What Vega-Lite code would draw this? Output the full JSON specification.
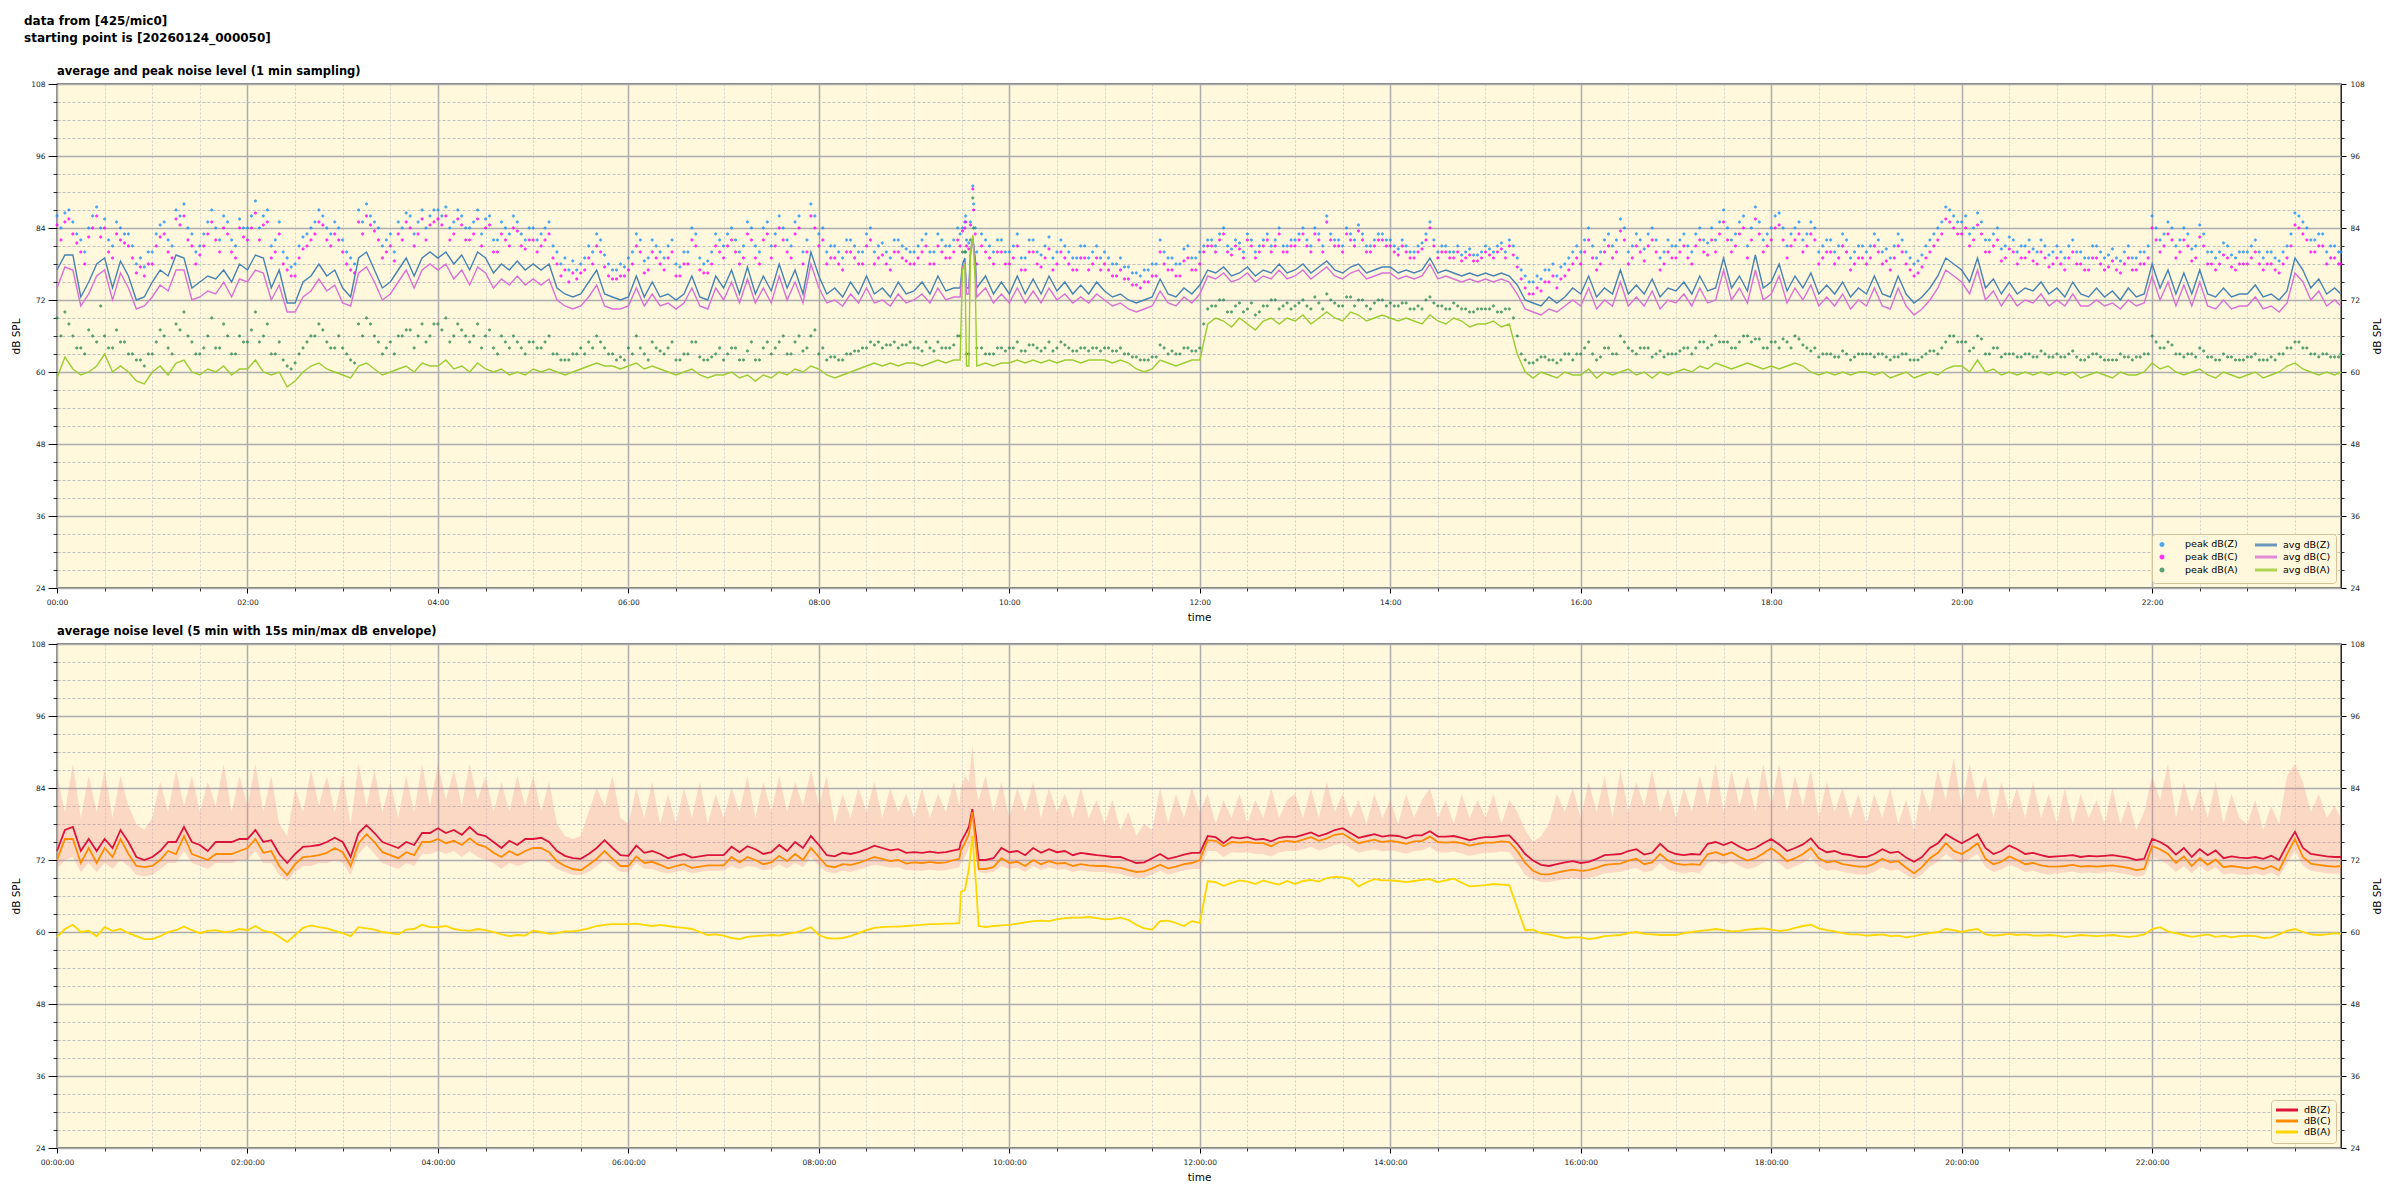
{
"$schema":"https://vega.github.io/schema/vega-lite/v6.json",
"background":"white",
"padding":{"left":11,"top":14,"right":5,"bottom":5},
"title":{"text":["data from [425/mic0]","starting point is [20260124_000050]"],"anchor":"start","frame":"bounds","fontSize":12,"lineHeight":17,"dx":13,"offset":20,"font":"DejaVu Sans","fontWeight":"bold","color":"#000000"},
"spacing":0,
"resolve":{"scale":{"color":"independent","fill":"independent","stroke":"independent","shape":"independent"},"legend":{"color":"independent","fill":"independent","stroke":"independent","shape":"independent"}},
"config":{
 "font":"DejaVu Sans",
 "view":{"fill":"#FFF8DC","stroke":"#000000","strokeWidth":1.3},
 "axis":{"labelFont":"DejaVu Sans","titleFont":"DejaVu Sans","labelFontSize":7.5,"labelColor":"#222222","titleColor":"#000000","titleFontSize":10.5,"titleFontWeight":"normal","tickColor":"#000000","domain":false,"labelFlush":false,"labelOverlap":false,"labelBound":false},
 "legend":{"labelFont":"DejaVu Sans","labelFontSize":9.5,"labelColor":"#000000","fillColor":"#FFF8DC","strokeColor":"#d6c39c","cornerRadius":3,"padding":5,"rowPadding":-3,"columnPadding":10,"labelOffset":18,"offset":5},
 "title":{"font":"DejaVu Sans","fontSize":11.5,"fontWeight":"bold","anchor":"start","frame":"group","offset":3,"color":"#000000"}
},
"datasets":{
"top":[
{"m":0,"z":77,"c":74,"a":59,"pz":86,"pc":84.5,"pa":69},
{"m":5,"z":79.5,"c":77.5,"a":62.5,"pz":86.5,"pc":85,"pa":70},
{"m":10,"z":79.5,"c":77,"a":60.5,"pz":85,"pc":83,"pa":66},
{"m":15,"z":72.5,"c":71,"a":59.5,"pz":82,"pc":80,"pa":64},
{"m":20,"z":75,"c":73,"a":60,"pz":84,"pc":82.5,"pa":67},
{"m":25,"z":78,"c":76,"a":61,"pz":87.5,"pc":86,"pa":65},
{"m":30,"z":79,"c":77,"a":63,"pz":85.5,"pc":84,"pa":66},
{"m":35,"z":74,"c":72,"a":60,"pz":81,"pc":79,"pa":64},
{"m":40,"z":78.5,"c":76.5,"a":61,"pz":84,"pc":82,"pa":65},
{"m":45,"z":76,"c":74,"a":60,"pz":83,"pc":81,"pa":63},
{"m":50,"z":72,"c":70.5,"a":58.5,"pz":78,"pc":76.5,"pa":62},
{"m":55,"z":72.5,"c":71,"a":58,"pz":77.5,"pc":76,"pa":61},
{"m":60,"z":75,"c":72.5,"a":60,"pz":80,"pc":78,"pa":63},
{"m":65,"z":77,"c":74.5,"a":61,"pz":84.5,"pc":82.5,"pa":67},
{"m":70,"z":76,"c":73.5,"a":59.5,"pz":82,"pc":80,"pa":64},
{"m":75,"z":79.5,"c":77,"a":61.5,"pz":87,"pc":85.5,"pa":68},
{"m":80,"z":79,"c":77,"a":62,"pz":88,"pc":86,"pa":70},
{"m":85,"z":74,"c":72,"a":60,"pz":83,"pc":81,"pa":65},
{"m":90,"z":75,"c":72.5,"a":59.5,"pz":81,"pc":79.5,"pa":63},
{"m":95,"z":76,"c":73.5,"a":60.5,"pz":85,"pc":83,"pa":66},
{"m":100,"z":75.5,"c":73,"a":60,"pz":84,"pc":82,"pa":64},
{"m":105,"z":77,"c":75,"a":61,"pz":86,"pc":84,"pa":68},
{"m":110,"z":75,"c":72.5,"a":59.5,"pz":82,"pc":80,"pa":63},
{"m":115,"z":78,"c":75.5,"a":60.5,"pz":85.5,"pc":84,"pa":66},
{"m":120,"z":77,"c":75,"a":60.5,"pz":84,"pc":82,"pa":65},
{"m":125,"z":79.5,"c":77,"a":62,"pz":88.5,"pc":86.5,"pa":70},
{"m":130,"z":79,"c":76.5,"a":60,"pz":86,"pc":84.5,"pa":66},
{"m":135,"z":74,"c":72,"a":59.5,"pz":81,"pc":79,"pa":63},
{"m":140,"z":77,"c":74.5,"a":60,"pz":85,"pc":83,"pa":65},
{"m":145,"z":71.5,"c":70,"a":57.5,"pz":79,"pc":77,"pa":61},
{"m":150,"z":71.5,"c":70,"a":58.5,"pz":78,"pc":76,"pa":61.5},
{"m":155,"z":75,"c":72.5,"a":60,"pz":82.5,"pc":80.5,"pa":64},
{"m":160,"z":76,"c":73.5,"a":61,"pz":84,"pc":82,"pa":66},
{"m":165,"z":78,"c":75.5,"a":61.5,"pz":87,"pc":85,"pa":68},
{"m":170,"z":76,"c":73.5,"a":60.5,"pz":84,"pc":82,"pa":65},
{"m":175,"z":77,"c":74.5,"a":60,"pz":85,"pc":83,"pa":64},
{"m":180,"z":74,"c":71.5,"a":59.5,"pz":82,"pc":80,"pa":64},
{"m":185,"z":72.5,"c":71,"a":59,"pz":79,"pc":77,"pa":62},
{"m":190,"z":79,"c":76.5,"a":61,"pz":87,"pc":85,"pa":68},
{"m":195,"z":80,"c":77.5,"a":61.5,"pz":88,"pc":86,"pa":69},
{"m":200,"z":77,"c":75,"a":60.5,"pz":85,"pc":83.5,"pa":66},
{"m":205,"z":74,"c":72,"a":59.5,"pz":81,"pc":79,"pa":63},
{"m":210,"z":75,"c":73,"a":60,"pz":83,"pc":81,"pa":65},
{"m":215,"z":77,"c":75,"a":60.5,"pz":85,"pc":83,"pa":66},
{"m":220,"z":79,"c":77,"a":61,"pz":86.5,"pc":85,"pa":67},
{"m":225,"z":76,"c":74,"a":60,"pz":83,"pc":81,"pa":64},
{"m":230,"z":79,"c":77,"a":61.5,"pz":87,"pc":85.5,"pa":68},
{"m":235,"z":80,"c":78,"a":61,"pz":86,"pc":84.5,"pa":66},
{"m":240,"z":79,"c":77,"a":61,"pz":87,"pc":85.5,"pa":68},
{"m":245,"z":80,"c":78,"a":62,"pz":87.5,"pc":86,"pa":69},
{"m":250,"z":78,"c":75.5,"a":60.5,"pz":85,"pc":83,"pa":66},
{"m":255,"z":79.5,"c":77,"a":61,"pz":86,"pc":84.5,"pa":67},
{"m":260,"z":77,"c":74.5,"a":60,"pz":84,"pc":82,"pa":65},
{"m":265,"z":80,"c":77.5,"a":61.5,"pz":87,"pc":85.5,"pa":68},
{"m":270,"z":79,"c":76.5,"a":60.5,"pz":85.5,"pc":84,"pa":66},
{"m":275,"z":76.5,"c":74,"a":60,"pz":82,"pc":80,"pa":64},
{"m":280,"z":78,"c":75.5,"a":60.5,"pz":85,"pc":83,"pa":66},
{"m":285,"z":77,"c":74.5,"a":59.5,"pz":83,"pc":81,"pa":64},
{"m":290,"z":78.5,"c":76,"a":60,"pz":85,"pc":83.5,"pa":65},
{"m":295,"z":77,"c":74.5,"a":59.5,"pz":82,"pc":80.5,"pa":63},
{"m":300,"z":78,"c":75.5,"a":60.5,"pz":84,"pc":82,"pa":65},
{"m":305,"z":77,"c":74.5,"a":60,"pz":83,"pc":81,"pa":64},
{"m":310,"z":78,"c":75.5,"a":60.5,"pz":85,"pc":83,"pa":66},
{"m":315,"z":74,"c":72,"a":60,"pz":80,"pc":78,"pa":63},
{"m":320,"z":73,"c":71,"a":59.5,"pz":79,"pc":77,"pa":62},
{"m":325,"z":72.5,"c":70.5,"a":60,"pz":78.5,"pc":76.5,"pa":63},
{"m":330,"z":73,"c":71,"a":60.5,"pz":78,"pc":76.5,"pa":64},
{"m":335,"z":75,"c":72.5,"a":61,"pz":81,"pc":79,"pa":65},
{"m":340,"z":77,"c":74.5,"a":61.5,"pz":83,"pc":81,"pa":66},
{"m":345,"z":73,"c":71,"a":61,"pz":79.5,"pc":77.5,"pa":64},
{"m":350,"z":72.5,"c":70.5,"a":61,"pz":77,"pc":75.5,"pa":63},
{"m":355,"z":72,"c":70.5,"a":60.5,"pz":78,"pc":76,"pa":62.5},
{"m":360,"z":72.5,"c":71,"a":61,"pz":79,"pc":77,"pa":64},
{"m":365,"z":76,"c":74,"a":61.5,"pz":83,"pc":81,"pa":66},
{"m":370,"z":72.5,"c":71,"a":60.5,"pz":78.5,"pc":76.5,"pa":63},
{"m":375,"z":75,"c":73,"a":61,"pz":82,"pc":80,"pa":65},
{"m":380,"z":72.5,"c":71,"a":60.5,"pz":80,"pc":78,"pa":63.5},
{"m":385,"z":73,"c":71.5,"a":60,"pz":81,"pc":79,"pa":64},
{"m":390,"z":72,"c":70.5,"a":59.5,"pz":78,"pc":76,"pa":62},
{"m":395,"z":73,"c":71.5,"a":60,"pz":80,"pc":78,"pa":63},
{"m":400,"z":76,"c":74,"a":60.5,"pz":84,"pc":82,"pa":65},
{"m":405,"z":72.5,"c":71,"a":59.5,"pz":79,"pc":77,"pa":62.5},
{"m":410,"z":72,"c":70.5,"a":59,"pz":78.5,"pc":76.5,"pa":62},
{"m":415,"z":76,"c":74,"a":59.5,"pz":83,"pc":81,"pa":63},
{"m":420,"z":74,"c":72,"a":59.5,"pz":81,"pc":79,"pa":62},
{"m":425,"z":77,"c":75,"a":60,"pz":84,"pc":82,"pa":64},
{"m":430,"z":73,"c":71.5,"a":59,"pz":80,"pc":78,"pa":62},
{"m":435,"z":77.5,"c":75.5,"a":59.5,"pz":85,"pc":83,"pa":63.5},
{"m":440,"z":73,"c":71.5,"a":58.5,"pz":81,"pc":79,"pa":62},
{"m":445,"z":76,"c":74,"a":59.5,"pz":84,"pc":82,"pa":64},
{"m":450,"z":73.5,"c":71.5,"a":59,"pz":81,"pc":79,"pa":63},
{"m":455,"z":78,"c":76,"a":60,"pz":86,"pc":84,"pa":65},
{"m":460,"z":74,"c":72,"a":59.5,"pz":82,"pc":80,"pa":63},
{"m":465,"z":77,"c":75,"a":60.5,"pz":85,"pc":83,"pa":65},
{"m":470,"z":73,"c":71.5,"a":60,"pz":80,"pc":78,"pa":63.5},
{"m":475,"z":80,"c":78,"a":61,"pz":88,"pc":86,"pa":66},
{"m":480,"z":76,"c":74,"a":60.5,"pz":83,"pc":81,"pa":63},
{"m":485,"z":73,"c":71.5,"a":59.5,"pz":80,"pc":78,"pa":62},
{"m":490,"z":74,"c":72,"a":59,"pz":81,"pc":79,"pa":62.5},
{"m":495,"z":72.5,"c":71,"a":59.5,"pz":79,"pc":77,"pa":62},
{"m":500,"z":75,"c":73,"a":60,"pz":82,"pc":80,"pa":63},
{"m":505,"z":73,"c":71.5,"a":60.5,"pz":80,"pc":78,"pa":63.5},
{"m":510,"z":76,"c":74,"a":61,"pz":83,"pc":81,"pa":64},
{"m":515,"z":73,"c":71.5,"a":61.5,"pz":80,"pc":78,"pa":64.5},
{"m":520,"z":74,"c":72,"a":61,"pz":81.5,"pc":79.5,"pa":64},
{"m":525,"z":72.5,"c":71,"a":61.5,"pz":79,"pc":77,"pa":64.5},
{"m":530,"z":75,"c":73,"a":61,"pz":82,"pc":80,"pa":64},
{"m":535,"z":73,"c":71.5,"a":61.5,"pz":80.5,"pc":78.5,"pa":64.5},
{"m":540,"z":73.5,"c":72,"a":61.5,"pz":80,"pc":78,"pa":64},
{"m":545,"z":75,"c":73,"a":61,"pz":82,"pc":80,"pa":63.5},
{"m":550,"z":73,"c":71.5,"a":61.5,"pz":80,"pc":78,"pa":64},
{"m":555,"z":76,"c":74,"a":62,"pz":83,"pc":81,"pa":65},
{"m":560,"z":73.5,"c":72,"a":61.5,"pz":81,"pc":79,"pa":64},
{"m":565,"z":74,"c":72.5,"a":62,"pz":82,"pc":80,"pa":64.5},
{"m":569,"z":74,"c":72.5,"a":62,"pz":83,"pc":81,"pa":66},
{"m":570.5,"z":78,"c":77.5,"a":77,"pz":84,"pc":83.5,"pa":80},
{"m":572,"z":79,"c":78,"a":78,"pz":85,"pc":84,"pa":80},
{"m":573,"z":74,"c":73,"a":61,"pz":82,"pc":81,"pa":63},
{"m":574.5,"z":74,"c":73,"a":61,"pz":81.5,"pc":80.5,"pa":63},
{"m":575.5,"z":80,"c":79.5,"a":80,"pz":85,"pc":84.5,"pa":82},
{"m":577,"z":82.5,"c":82,"a":82.8,"pz":91,"pc":90.5,"pa":89},
{"m":578.5,"z":79,"c":78,"a":75,"pz":84,"pc":83,"pa":78},
{"m":579.5,"z":74,"c":72.5,"a":61,"pz":80,"pc":78,"pa":64},
{"m":585,"z":76,"c":74,"a":61.5,"pz":82,"pc":80,"pa":63},
{"m":590,"z":73,"c":71.5,"a":61,"pz":80,"pc":78,"pa":63},
{"m":595,"z":75,"c":73,"a":61.5,"pz":82,"pc":80,"pa":64},
{"m":600,"z":73,"c":71.5,"a":61.5,"pz":80,"pc":78,"pa":64},
{"m":605,"z":76,"c":74,"a":62,"pz":83,"pc":81,"pa":65},
{"m":610,"z":73,"c":71.5,"a":61.5,"pz":79,"pc":77,"pa":63.5},
{"m":615,"z":75.5,"c":73.5,"a":62,"pz":82,"pc":80,"pa":64.5},
{"m":620,"z":73,"c":71.5,"a":61.5,"pz":79.5,"pc":77.5,"pa":63.5},
{"m":625,"z":76,"c":74,"a":62,"pz":82.5,"pc":80.5,"pa":65},
{"m":630,"z":73.5,"c":72,"a":61.5,"pz":80,"pc":78,"pa":64},
{"m":635,"z":75,"c":73,"a":62,"pz":81,"pc":79,"pa":64.5},
{"m":640,"z":73,"c":71.5,"a":62,"pz":79,"pc":77,"pa":63.5},
{"m":645,"z":74.5,"c":72.5,"a":61.5,"pz":81,"pc":79,"pa":64},
{"m":650,"z":73,"c":71.5,"a":62,"pz":79,"pc":77,"pa":63.5},
{"m":655,"z":75,"c":73,"a":62,"pz":81,"pc":79,"pa":64},
{"m":660,"z":73.5,"c":72,"a":62,"pz":80,"pc":78,"pa":64},
{"m":665,"z":72.5,"c":71,"a":61.5,"pz":78,"pc":76,"pa":63.5},
{"m":670,"z":73,"c":71.5,"a":62,"pz":79,"pc":77,"pa":64},
{"m":675,"z":72,"c":70.5,"a":61.5,"pz":77.5,"pc":75.5,"pa":63},
{"m":680,"z":71.5,"c":70,"a":60.5,"pz":76.5,"pc":74.5,"pa":62.5},
{"m":685,"z":72,"c":70.5,"a":60,"pz":77,"pc":75,"pa":62},
{"m":690,"z":72.5,"c":71,"a":60.5,"pz":78,"pc":76,"pa":62.5},
{"m":695,"z":75.5,"c":73.5,"a":62,"pz":82,"pc":80,"pa":64.5},
{"m":700,"z":73,"c":71.5,"a":61.5,"pz":79,"pc":77,"pa":63},
{"m":705,"z":72.5,"c":71,"a":61,"pz":78,"pc":76,"pa":63},
{"m":710,"z":74,"c":72.5,"a":61.5,"pz":80.5,"pc":78.5,"pa":64},
{"m":715,"z":73,"c":71.5,"a":62,"pz":79,"pc":77,"pa":63.5},
{"m":720,"z":74.5,"c":73,"a":62,"pz":80,"pc":78,"pa":64},
{"m":725,"z":77,"c":76,"a":68,"pz":82,"pc":81,"pa":70.5},
{"m":730,"z":76.5,"c":75.5,"a":69,"pz":81,"pc":80,"pa":71},
{"m":735,"z":77.5,"c":76.5,"a":68.5,"pz":84,"pc":83,"pa":72},
{"m":740,"z":76,"c":75,"a":67.5,"pz":80.5,"pc":79.5,"pa":70},
{"m":745,"z":76.5,"c":75.5,"a":69,"pz":81.5,"pc":80.5,"pa":71.5},
{"m":750,"z":77.5,"c":76.5,"a":68,"pz":83,"pc":82,"pa":70.5},
{"m":755,"z":76,"c":75,"a":67,"pz":80,"pc":79,"pa":69.5},
{"m":760,"z":77,"c":76,"a":68.5,"pz":82,"pc":81,"pa":71},
{"m":765,"z":76.5,"c":75.5,"a":69,"pz":81,"pc":80,"pa":72},
{"m":770,"z":78,"c":77,"a":68,"pz":84,"pc":83,"pa":70.5},
{"m":775,"z":76.5,"c":75.5,"a":69,"pz":81,"pc":80,"pa":71.5},
{"m":780,"z":77,"c":76,"a":68.5,"pz":82,"pc":81,"pa":71},
{"m":785,"z":78,"c":77,"a":69.5,"pz":84,"pc":83,"pa":72},
{"m":790,"z":76.5,"c":75.5,"a":68,"pz":81,"pc":80,"pa":70.5},
{"m":795,"z":77.5,"c":76.5,"a":69,"pz":83,"pc":82,"pa":71.5},
{"m":800,"z":78.5,"c":77.5,"a":70,"pz":86,"pc":85,"pa":73},
{"m":805,"z":77,"c":76,"a":69,"pz":82,"pc":81,"pa":71.5},
{"m":810,"z":76.5,"c":75.5,"a":68.5,"pz":81,"pc":80,"pa":71},
{"m":815,"z":77.5,"c":76.5,"a":70,"pz":83,"pc":82,"pa":72.5},
{"m":820,"z":78,"c":77,"a":69.5,"pz":84.5,"pc":83.5,"pa":72},
{"m":825,"z":76.5,"c":75.5,"a":68.5,"pz":81,"pc":80,"pa":71},
{"m":830,"z":77,"c":76,"a":69,"pz":82,"pc":81,"pa":71.5},
{"m":835,"z":77.5,"c":76.5,"a":69.5,"pz":83,"pc":82,"pa":72},
{"m":840,"z":77.5,"c":76.5,"a":69,"pz":82,"pc":81,"pa":71.5},
{"m":845,"z":76.5,"c":75.5,"a":68.5,"pz":80.5,"pc":79.5,"pa":71},
{"m":850,"z":77,"c":76,"a":69,"pz":81,"pc":80,"pa":71.5},
{"m":855,"z":76.5,"c":75.5,"a":68.5,"pz":80,"pc":79,"pa":70.5},
{"m":860,"z":77,"c":76,"a":68,"pz":81.5,"pc":80.5,"pa":70.5},
{"m":865,"z":79,"c":78,"a":69.5,"pz":85,"pc":84,"pa":72.5},
{"m":870,"z":76.5,"c":75.5,"a":68.5,"pz":80,"pc":79,"pa":71},
{"m":875,"z":77,"c":76,"a":68,"pz":81,"pc":80,"pa":70.5},
{"m":880,"z":76.5,"c":75.5,"a":69,"pz":80,"pc":79,"pa":71.5},
{"m":885,"z":76,"c":75,"a":68.5,"pz":79.5,"pc":78.5,"pa":70.5},
{"m":890,"z":76.5,"c":75.5,"a":67.5,"pz":80.5,"pc":79.5,"pa":70},
{"m":895,"z":76,"c":75,"a":68,"pz":79.5,"pc":78.5,"pa":70.5},
{"m":900,"z":76.5,"c":75.5,"a":68,"pz":81,"pc":80,"pa":70.5},
{"m":905,"z":76,"c":75,"a":68.5,"pz":80,"pc":79,"pa":71},
{"m":910,"z":76.5,"c":75.5,"a":67.5,"pz":81.5,"pc":80.5,"pa":70},
{"m":915,"z":76,"c":75,"a":68,"pz":82,"pc":81,"pa":70.5},
{"m":920,"z":74.5,"c":73,"a":63,"pz":79,"pc":77.5,"pa":66},
{"m":925,"z":72,"c":70.5,"a":60,"pz":76,"pc":74,"pa":62},
{"m":930,"z":71.5,"c":70,"a":59,"pz":75,"pc":73,"pa":61.5},
{"m":935,"z":71,"c":69.5,"a":60,"pz":75.5,"pc":73.5,"pa":62.5},
{"m":940,"z":72.5,"c":70.5,"a":59.5,"pz":77,"pc":75,"pa":62},
{"m":945,"z":71.5,"c":70,"a":59,"pz":76,"pc":74,"pa":61.5},
{"m":950,"z":72.5,"c":71,"a":60,"pz":78,"pc":76,"pa":63},
{"m":955,"z":74,"c":72,"a":59.5,"pz":80,"pc":78,"pa":62},
{"m":960,"z":73,"c":71,"a":59.5,"pz":80,"pc":78,"pa":63},
{"m":965,"z":76,"c":74,"a":60.5,"pz":84,"pc":82,"pa":65},
{"m":970,"z":72.5,"c":70.5,"a":59,"pz":79,"pc":77,"pa":62},
{"m":975,"z":74,"c":72,"a":60,"pz":82,"pc":80,"pa":64},
{"m":980,"z":73,"c":71,"a":59.5,"pz":81,"pc":79,"pa":63},
{"m":985,"z":77,"c":75,"a":60,"pz":85.5,"pc":83.5,"pa":66},
{"m":990,"z":73,"c":71,"a":60.5,"pz":80,"pc":78,"pa":64},
{"m":995,"z":74.5,"c":72.5,"a":59.5,"pz":83,"pc":81,"pa":63},
{"m":1000,"z":73,"c":71,"a":60,"pz":80.5,"pc":78.5,"pa":64},
{"m":1005,"z":75.5,"c":73.5,"a":59,"pz":84,"pc":82,"pa":62.5},
{"m":1010,"z":72.5,"c":70.5,"a":60,"pz":79,"pc":77,"pa":63.5},
{"m":1015,"z":74,"c":72,"a":59.5,"pz":82,"pc":80,"pa":63},
{"m":1020,"z":73.5,"c":71.5,"a":60,"pz":81,"pc":79,"pa":63},
{"m":1025,"z":75,"c":73,"a":60.5,"pz":83,"pc":81,"pa":64},
{"m":1030,"z":73,"c":71,"a":60,"pz":80,"pc":78,"pa":63},
{"m":1035,"z":76,"c":74,"a":61,"pz":84,"pc":82,"pa":65},
{"m":1040,"z":73.5,"c":71.5,"a":60.5,"pz":81.5,"pc":79.5,"pa":64},
{"m":1045,"z":74,"c":72,"a":61.5,"pz":82,"pc":80,"pa":66},
{"m":1050,"z":79,"c":77,"a":61,"pz":87,"pc":85,"pa":65},
{"m":1055,"z":74,"c":72,"a":60.5,"pz":82,"pc":80,"pa":64},
{"m":1060,"z":76,"c":74,"a":61,"pz":85,"pc":83,"pa":65},
{"m":1065,"z":73.5,"c":71.5,"a":61.5,"pz":81,"pc":79,"pa":66},
{"m":1070,"z":79.5,"c":77,"a":61,"pz":87.5,"pc":85.5,"pa":65.5},
{"m":1075,"z":74,"c":72,"a":60.5,"pz":82,"pc":80,"pa":64},
{"m":1080,"z":75,"c":73,"a":61,"pz":84,"pc":82,"pa":65},
{"m":1085,"z":78,"c":76,"a":60.5,"pz":86.5,"pc":84.5,"pa":64},
{"m":1090,"z":73.5,"c":71.5,"a":61,"pz":81,"pc":79,"pa":65},
{"m":1095,"z":76,"c":74,"a":61.5,"pz":84,"pc":82,"pa":66},
{"m":1100,"z":74,"c":72,"a":61,"pz":82,"pc":80,"pa":64.5},
{"m":1105,"z":76.5,"c":74.5,"a":60,"pz":85,"pc":83,"pa":63.5},
{"m":1110,"z":73,"c":71,"a":59.5,"pz":80,"pc":78,"pa":62.5},
{"m":1115,"z":74.5,"c":72.5,"a":60,"pz":82,"pc":80,"pa":63},
{"m":1120,"z":73,"c":71,"a":59.5,"pz":80,"pc":78,"pa":62.5},
{"m":1125,"z":75,"c":73,"a":60,"pz":83,"pc":81,"pa":63.5},
{"m":1130,"z":72.5,"c":70.5,"a":59.5,"pz":79,"pc":77,"pa":62},
{"m":1135,"z":74,"c":72,"a":60,"pz":81,"pc":79,"pa":63},
{"m":1140,"z":73,"c":71,"a":60,"pz":80,"pc":78,"pa":63},
{"m":1145,"z":76,"c":74,"a":59.5,"pz":83,"pc":81,"pa":62.5},
{"m":1150,"z":73,"c":71,"a":60,"pz":80,"pc":78,"pa":63},
{"m":1155,"z":72.5,"c":70.5,"a":59,"pz":79,"pc":77,"pa":62},
{"m":1160,"z":76,"c":74,"a":59.5,"pz":83,"pc":81,"pa":62.5},
{"m":1165,"z":73,"c":71,"a":60,"pz":80,"pc":78,"pa":63},
{"m":1170,"z":71.5,"c":69.5,"a":59,"pz":78,"pc":76,"pa":62},
{"m":1175,"z":72.5,"c":70.5,"a":59.5,"pz":79.5,"pc":77.5,"pa":62.5},
{"m":1180,"z":74,"c":72,"a":60,"pz":82,"pc":80,"pa":63.5},
{"m":1185,"z":76,"c":74,"a":59.5,"pz":84,"pc":82,"pa":63},
{"m":1190,"z":79,"c":77,"a":60.5,"pz":87.5,"pc":85.5,"pa":65},
{"m":1195,"z":78,"c":76,"a":61,"pz":86,"pc":84,"pa":66},
{"m":1200,"z":77,"c":75,"a":61,"pz":85,"pc":83,"pa":65},
{"m":1205,"z":75,"c":73,"a":60,"pz":83,"pc":81,"pa":63.5},
{"m":1210,"z":79,"c":77,"a":62,"pz":86.5,"pc":84.5,"pa":66},
{"m":1215,"z":74,"c":72,"a":60,"pz":82,"pc":80,"pa":63},
{"m":1220,"z":75.5,"c":73.5,"a":60.5,"pz":83,"pc":81,"pa":64},
{"m":1225,"z":73,"c":71,"a":59.5,"pz":80.5,"pc":78.5,"pa":62.5},
{"m":1230,"z":75,"c":73,"a":60,"pz":82.5,"pc":80.5,"pa":63},
{"m":1235,"z":73,"c":71,"a":59.5,"pz":80,"pc":78,"pa":62.5},
{"m":1240,"z":74,"c":72,"a":60,"pz":81,"pc":79,"pa":63},
{"m":1245,"z":73.5,"c":71.5,"a":59.5,"pz":80.5,"pc":78.5,"pa":62.5},
{"m":1250,"z":75,"c":73,"a":60,"pz":82,"pc":80,"pa":63.5},
{"m":1255,"z":73,"c":71,"a":59.5,"pz":79.5,"pc":77.5,"pa":62.5},
{"m":1260,"z":74,"c":72,"a":60,"pz":81,"pc":79,"pa":63},
{"m":1265,"z":72.5,"c":71,"a":59.5,"pz":79,"pc":77,"pa":62.5},
{"m":1270,"z":75,"c":73,"a":60,"pz":82,"pc":80,"pa":63.5},
{"m":1275,"z":73,"c":71,"a":59,"pz":80,"pc":78,"pa":62},
{"m":1280,"z":72.5,"c":71,"a":59.5,"pz":79,"pc":77,"pa":62.5},
{"m":1285,"z":74,"c":72,"a":60,"pz":81,"pc":79,"pa":63},
{"m":1290,"z":72.5,"c":71,"a":59.5,"pz":79,"pc":77,"pa":62},
{"m":1295,"z":73.5,"c":71.5,"a":59,"pz":80.5,"pc":78.5,"pa":62},
{"m":1300,"z":72,"c":70.5,"a":60,"pz":78.5,"pc":76.5,"pa":63},
{"m":1305,"z":74,"c":72,"a":59.5,"pz":81,"pc":79,"pa":62.5},
{"m":1310,"z":72.5,"c":71,"a":59.5,"pz":79,"pc":77,"pa":62.5},
{"m":1315,"z":73,"c":71.5,"a":60,"pz":80,"pc":78,"pa":63},
{"m":1320,"z":78,"c":76,"a":61.5,"pz":86,"pc":84,"pa":66},
{"m":1325,"z":74,"c":72,"a":60.5,"pz":82,"pc":80,"pa":64},
{"m":1330,"z":77,"c":75,"a":61,"pz":85,"pc":83,"pa":65},
{"m":1335,"z":73,"c":71,"a":60,"pz":81,"pc":79,"pa":63},
{"m":1340,"z":76.5,"c":74.5,"a":59.5,"pz":84,"pc":82,"pa":62.5},
{"m":1345,"z":73,"c":71,"a":60,"pz":80.5,"pc":78.5,"pa":63},
{"m":1350,"z":77,"c":75,"a":60.5,"pz":84.5,"pc":82.5,"pa":64},
{"m":1355,"z":73,"c":71,"a":59.5,"pz":80,"pc":78,"pa":62.5},
{"m":1360,"z":72.5,"c":70.5,"a":59,"pz":79,"pc":77,"pa":62},
{"m":1365,"z":74,"c":72,"a":60,"pz":81.5,"pc":79.5,"pa":63},
{"m":1370,"z":72.5,"c":70.5,"a":59.5,"pz":79.5,"pc":77.5,"pa":62.5},
{"m":1375,"z":73,"c":71,"a":59,"pz":80,"pc":78,"pa":62},
{"m":1380,"z":73,"c":71,"a":59.5,"pz":80,"pc":78,"pa":62.5},
{"m":1385,"z":74.5,"c":72.5,"a":60,"pz":82,"pc":80,"pa":63},
{"m":1390,"z":72.5,"c":70.5,"a":59,"pz":79,"pc":77,"pa":62},
{"m":1395,"z":73,"c":71,"a":59.5,"pz":80,"pc":78,"pa":62.5},
{"m":1400,"z":72,"c":70,"a":60,"pz":78.5,"pc":76.5,"pa":63},
{"m":1405,"z":73.5,"c":71.5,"a":61,"pz":81,"pc":79,"pa":64},
{"m":1410,"z":79,"c":76.5,"a":61.5,"pz":86.5,"pc":84.5,"pa":65},
{"m":1415,"z":77,"c":75,"a":60.5,"pz":85,"pc":83,"pa":64},
{"m":1420,"z":74,"c":72,"a":60,"pz":82,"pc":80,"pa":63},
{"m":1425,"z":75.5,"c":73.5,"a":59.5,"pz":83,"pc":81,"pa":62.5},
{"m":1430,"z":73,"c":71,"a":60,"pz":80,"pc":78,"pa":63},
{"m":1435,"z":74,"c":72,"a":59.5,"pz":81,"pc":79,"pa":62.5},
{"m":1439,"z":73,"c":71,"a":60,"pz":80,"pc":78,"pa":63}
],
"pk":[
{"m":2.5,"pz":84,"pc":82,"pa":66},{"m":7.5,"pz":87,"pc":85.5,"pa":68},{"m":12.5,"pz":83,"pc":81.5,"pa":64},{"m":17.5,"pz":80,"pc":78,"pa":63},{"m":22.5,"pz":86,"pc":84,"pa":66},{"m":27.5,"pz":84,"pc":82.5,"pa":71},{"m":32.5,"pz":82,"pc":80,"pa":64},{"m":37.5,"pz":85,"pc":83,"pa":67},{"m":42.5,"pz":83,"pc":81.5,"pa":65},{"m":47.5,"pz":81,"pc":79,"pa":63},{"m":52.5,"pz":79,"pc":77.5,"pa":62},{"m":57.5,"pz":80,"pc":78,"pa":63},
{"m":62.5,"pz":83,"pc":81,"pa":65},{"m":67.5,"pz":85,"pc":83,"pa":66},{"m":72.5,"pz":81,"pc":79,"pa":63},{"m":77.5,"pz":86,"pc":84.5,"pa":67},{"m":82.5,"pz":84,"pc":82,"pa":66},{"m":87.5,"pz":80,"pc":78,"pa":63},{"m":92.5,"pz":83,"pc":81,"pa":64},{"m":97.5,"pz":87,"pc":85,"pa":69},{"m":102.5,"pz":82,"pc":80,"pa":64},{"m":107.5,"pz":85,"pc":83,"pa":66},{"m":112.5,"pz":81,"pc":79,"pa":63},{"m":117.5,"pz":84,"pc":82.5,"pa":65},
{"m":122.5,"pz":86,"pc":84,"pa":67},{"m":127.5,"pz":84,"pc":82,"pa":65},{"m":132.5,"pz":87,"pc":85,"pa":68},{"m":137.5,"pz":82,"pc":80,"pa":63},{"m":142.5,"pz":80,"pc":78,"pa":62},{"m":147.5,"pz":77.5,"pc":76,"pa":60.5},{"m":152.5,"pz":81,"pc":79,"pa":63},{"m":157.5,"pz":83,"pc":81,"pa":65},{"m":162.5,"pz":85,"pc":83,"pa":66},{"m":167.5,"pz":86,"pc":84.5,"pa":67},{"m":172.5,"pz":83,"pc":81,"pa":64},{"m":177.5,"pz":84,"pc":82,"pa":66},
{"m":182.5,"pz":80,"pc":78,"pa":63},{"m":187.5,"pz":78,"pc":76.5,"pa":61.5},{"m":192.5,"pz":85,"pc":83,"pa":66},{"m":197.5,"pz":86,"pc":84.5,"pa":68},{"m":202.5,"pz":84,"pc":82,"pa":65},{"m":207.5,"pz":82,"pc":80,"pa":64},{"m":212.5,"pz":80,"pc":78.5,"pa":63},{"m":217.5,"pz":84,"pc":82,"pa":66},{"m":222.5,"pz":86,"pc":84,"pa":67},{"m":227.5,"pz":85,"pc":83,"pa":66},{"m":232.5,"pz":84,"pc":82,"pa":65},{"m":237.5,"pz":87,"pc":85,"pa":68},
{"m":242.5,"pz":86,"pc":84.5,"pa":67},{"m":247.5,"pz":84,"pc":82,"pa":65},{"m":252.5,"pz":87,"pc":85.5,"pa":68},{"m":257.5,"pz":84,"pc":82,"pa":66},{"m":262.5,"pz":85,"pc":83,"pa":66},{"m":267.5,"pz":83,"pc":81,"pa":64},{"m":272.5,"pz":86,"pc":84.5,"pa":67},{"m":277.5,"pz":82,"pc":80,"pa":63},{"m":282.5,"pz":84,"pc":82,"pa":65},{"m":287.5,"pz":86,"pc":84,"pa":66},{"m":292.5,"pz":83,"pc":81,"pa":64},{"m":297.5,"pz":84,"pc":82,"pa":65},
{"m":302.5,"pz":82,"pc":80,"pa":64},{"m":307.5,"pz":84,"pc":82,"pa":65},{"m":312.5,"pz":81,"pc":79,"pa":63},{"m":317.5,"pz":78,"pc":76,"pa":62},{"m":322.5,"pz":77,"pc":75,"pa":62},{"m":327.5,"pz":77,"pc":75.5,"pa":63},{"m":332.5,"pz":79,"pc":77,"pa":63},{"m":337.5,"pz":80,"pc":78,"pa":64},{"m":342.5,"pz":82,"pc":80,"pa":65},{"m":347.5,"pz":78,"pc":76,"pa":63},{"m":352.5,"pz":77,"pc":75.5,"pa":62},{"m":357.5,"pz":77.5,"pc":76,"pa":62},
{"m":362.5,"pz":80,"pc":78,"pa":63},{"m":367.5,"pz":82,"pc":80,"pa":64},{"m":372.5,"pz":79,"pc":77,"pa":62},{"m":377.5,"pz":81,"pc":79,"pa":64},{"m":382.5,"pz":79,"pc":77,"pa":63},{"m":387.5,"pz":82,"pc":80,"pa":65},{"m":392.5,"pz":77.5,"pc":76,"pa":62},{"m":397.5,"pz":80,"pc":78,"pa":63},{"m":402.5,"pz":83,"pc":81,"pa":65},{"m":407.5,"pz":78,"pc":76.5,"pa":62},{"m":412.5,"pz":80,"pc":78,"pa":62.5},{"m":417.5,"pz":82,"pc":80,"pa":64},
{"m":422.5,"pz":83,"pc":81,"pa":63},{"m":427.5,"pz":82,"pc":80,"pa":64},{"m":432.5,"pz":81,"pc":79,"pa":62},{"m":437.5,"pz":84,"pc":82,"pa":65},{"m":442.5,"pz":80,"pc":78,"pa":62},{"m":447.5,"pz":85,"pc":83,"pa":65},{"m":452.5,"pz":83,"pc":81,"pa":64},{"m":457.5,"pz":84,"pc":82,"pa":66},{"m":462.5,"pz":81,"pc":79,"pa":63},{"m":467.5,"pz":86,"pc":84,"pa":66},{"m":472.5,"pz":82,"pc":80,"pa":64},{"m":477.5,"pz":86,"pc":84,"pa":67},
{"m":482.5,"pz":84,"pc":82,"pa":64},{"m":487.5,"pz":81,"pc":79,"pa":62.5},{"m":492.5,"pz":80,"pc":78,"pa":62},{"m":497.5,"pz":82,"pc":80,"pa":63},{"m":502.5,"pz":81,"pc":79,"pa":63.5},{"m":507.5,"pz":80,"pc":78,"pa":64},{"m":512.5,"pz":84,"pc":82,"pa":65},{"m":517.5,"pz":81,"pc":79,"pa":65},{"m":522.5,"pz":80,"pc":78,"pa":64.5},{"m":527.5,"pz":82,"pc":80,"pa":65},{"m":532.5,"pz":81,"pc":79,"pa":64.5},{"m":537.5,"pz":80,"pc":78,"pa":65},
{"m":542.5,"pz":81,"pc":79,"pa":64},{"m":547.5,"pz":83,"pc":81,"pa":65},{"m":552.5,"pz":80,"pc":78,"pa":63.5},{"m":557.5,"pz":82,"pc":80,"pa":64},{"m":562.5,"pz":81,"pc":79,"pa":64},{"m":567.5,"pz":84,"pc":82,"pa":66},{"m":572.5,"pz":86,"pc":85,"pa":80},{"m":577.5,"pz":88,"pc":87,"pa":84},{"m":582.5,"pz":83,"pc":81,"pa":64},{"m":587.5,"pz":81,"pc":79,"pa":63},{"m":592.5,"pz":82,"pc":80,"pa":64},{"m":597.5,"pz":80,"pc":78,"pa":63.5},
{"m":602.5,"pz":81,"pc":79,"pa":64},{"m":607.5,"pz":79,"pc":77,"pa":63.5},{"m":612.5,"pz":82,"pc":80,"pa":64.5},{"m":617.5,"pz":80,"pc":78,"pa":64},{"m":622.5,"pz":81,"pc":79,"pa":64},{"m":627.5,"pz":79,"pc":77,"pa":63.5},{"m":632.5,"pz":82,"pc":80,"pa":65},{"m":637.5,"pz":80,"pc":78,"pa":64},{"m":642.5,"pz":79,"pc":77,"pa":63.5},{"m":647.5,"pz":81,"pc":79,"pa":64},{"m":652.5,"pz":80,"pc":78,"pa":64},{"m":657.5,"pz":79,"pc":77,"pa":63.5},
{"m":662.5,"pz":79,"pc":77,"pa":64},{"m":667.5,"pz":78,"pc":76,"pa":63.5},{"m":672.5,"pz":77.5,"pc":75.5,"pa":63},{"m":677.5,"pz":76.5,"pc":74.5,"pa":62.5},{"m":682.5,"pz":76,"pc":74,"pa":62},{"m":687.5,"pz":77,"pc":75,"pa":62},{"m":692.5,"pz":78,"pc":76,"pa":62.5},{"m":697.5,"pz":80,"pc":78,"pa":64},{"m":702.5,"pz":79,"pc":77,"pa":63.5},{"m":707.5,"pz":78,"pc":76,"pa":63},{"m":712.5,"pz":81,"pc":79,"pa":64},{"m":717.5,"pz":79,"pc":77,"pa":63.5},
{"m":722.5,"pz":81,"pc":80,"pa":68},{"m":727.5,"pz":82,"pc":81,"pa":71},{"m":732.5,"pz":83,"pc":82,"pa":72},{"m":737.5,"pz":81,"pc":80,"pa":70},{"m":742.5,"pz":82,"pc":81,"pa":71},{"m":747.5,"pz":80,"pc":79,"pa":70},{"m":752.5,"pz":82,"pc":81,"pa":71.5},{"m":757.5,"pz":81,"pc":80,"pa":70},{"m":762.5,"pz":83,"pc":82,"pa":71},{"m":767.5,"pz":82,"pc":81,"pa":72},{"m":772.5,"pz":81,"pc":80,"pa":71},{"m":777.5,"pz":82,"pc":81,"pa":70.5},
{"m":782.5,"pz":83,"pc":82,"pa":71.5},{"m":787.5,"pz":82,"pc":81,"pa":71},{"m":792.5,"pz":84,"pc":83,"pa":72.5},{"m":797.5,"pz":81,"pc":80,"pa":70.5},{"m":802.5,"pz":83,"pc":82,"pa":72},{"m":807.5,"pz":82,"pc":81,"pa":71},{"m":812.5,"pz":84,"pc":83,"pa":72.5},{"m":817.5,"pz":82,"pc":81,"pa":71},{"m":822.5,"pz":83,"pc":82,"pa":72},{"m":827.5,"pz":81,"pc":80,"pa":70.5},{"m":832.5,"pz":83,"pc":82,"pa":72},{"m":837.5,"pz":82,"pc":81,"pa":71},
{"m":842.5,"pz":81,"pc":80,"pa":71},{"m":847.5,"pz":82,"pc":81,"pa":71.5},{"m":852.5,"pz":80,"pc":79,"pa":70.5},{"m":857.5,"pz":81,"pc":80,"pa":71},{"m":862.5,"pz":83,"pc":82,"pa":72},{"m":867.5,"pz":82,"pc":81,"pa":71.5},{"m":872.5,"pz":81,"pc":80,"pa":71},{"m":877.5,"pz":80,"pc":79,"pa":70.5},{"m":882.5,"pz":81,"pc":80,"pa":71},{"m":887.5,"pz":80,"pc":79,"pa":70.5},{"m":892.5,"pz":79.5,"pc":78.5,"pa":70},{"m":897.5,"pz":80,"pc":79,"pa":70.5},
{"m":902.5,"pz":80.5,"pc":79.5,"pa":70.5},{"m":907.5,"pz":81,"pc":80,"pa":70},{"m":912.5,"pz":80,"pc":79,"pa":70.5},{"m":917.5,"pz":81,"pc":79.5,"pa":69},{"m":922.5,"pz":77,"pc":75.5,"pa":63},{"m":927.5,"pz":75,"pc":73,"pa":61.5},{"m":932.5,"pz":76,"pc":74,"pa":62},{"m":937.5,"pz":77,"pc":75,"pa":62.5},{"m":942.5,"pz":78,"pc":76,"pa":62},{"m":947.5,"pz":77.5,"pc":75.5,"pa":62},{"m":952.5,"pz":79,"pc":77,"pa":63},{"m":957.5,"pz":81,"pc":79,"pa":63},
{"m":962.5,"pz":82,"pc":80,"pa":64},{"m":967.5,"pz":81,"pc":79,"pa":63},{"m":972.5,"pz":80,"pc":78,"pa":62.5},{"m":977.5,"pz":83,"pc":81,"pa":64},{"m":982.5,"pz":82,"pc":80,"pa":63},{"m":987.5,"pz":84,"pc":82,"pa":65},{"m":992.5,"pz":81,"pc":79,"pa":63.5},{"m":997.5,"pz":82,"pc":80,"pa":64},{"m":1002.5,"pz":83,"pc":81,"pa":64},{"m":1007.5,"pz":82,"pc":80,"pa":63},{"m":1012.5,"pz":80,"pc":78,"pa":62.5},{"m":1017.5,"pz":81,"pc":79,"pa":63},
{"m":1022.5,"pz":82,"pc":80,"pa":63.5},{"m":1027.5,"pz":81,"pc":79,"pa":64},{"m":1032.5,"pz":83,"pc":81,"pa":64},{"m":1037.5,"pz":82,"pc":80,"pa":65},{"m":1042.5,"pz":84,"pc":82,"pa":64.5},{"m":1047.5,"pz":85,"pc":83,"pa":65},{"m":1052.5,"pz":84,"pc":82,"pa":65},{"m":1057.5,"pz":83,"pc":81,"pa":64},{"m":1062.5,"pz":86,"pc":84,"pa":66},{"m":1067.5,"pz":84,"pc":82,"pa":65},{"m":1072.5,"pz":85,"pc":83,"pa":65.5},{"m":1077.5,"pz":83,"pc":81,"pa":64},
{"m":1082.5,"pz":86,"pc":84,"pa":65},{"m":1087.5,"pz":84,"pc":82,"pa":65.5},{"m":1092.5,"pz":83,"pc":81,"pa":64},{"m":1097.5,"pz":85,"pc":83,"pa":65.5},{"m":1102.5,"pz":83,"pc":81,"pa":64},{"m":1107.5,"pz":84,"pc":82,"pa":64},{"m":1112.5,"pz":81,"pc":79,"pa":63},{"m":1117.5,"pz":82,"pc":80,"pa":63},{"m":1122.5,"pz":81,"pc":79,"pa":62.5},{"m":1127.5,"pz":82,"pc":80,"pa":63},{"m":1132.5,"pz":80,"pc":78,"pa":62.5},{"m":1137.5,"pz":81,"pc":79,"pa":63},
{"m":1142.5,"pz":81,"pc":79,"pa":63},{"m":1147.5,"pz":82,"pc":80,"pa":63},{"m":1152.5,"pz":80.5,"pc":78.5,"pa":62.5},{"m":1157.5,"pz":81,"pc":79,"pa":62.5},{"m":1162.5,"pz":82,"pc":80,"pa":63},{"m":1167.5,"pz":79,"pc":77,"pa":62},{"m":1172.5,"pz":78.5,"pc":76.5,"pa":62},{"m":1177.5,"pz":81,"pc":79,"pa":63},{"m":1182.5,"pz":83,"pc":81,"pa":63.5},{"m":1187.5,"pz":85,"pc":83,"pa":64},{"m":1192.5,"pz":87,"pc":85,"pa":66},{"m":1197.5,"pz":85,"pc":83,"pa":65},
{"m":1202.5,"pz":86,"pc":84,"pa":65},{"m":1207.5,"pz":84,"pc":82,"pa":64},{"m":1212.5,"pz":85,"pc":83,"pa":65.5},{"m":1217.5,"pz":82,"pc":80,"pa":63},{"m":1222.5,"pz":84,"pc":82,"pa":64},{"m":1227.5,"pz":81,"pc":79,"pa":63},{"m":1232.5,"pz":82,"pc":80,"pa":63},{"m":1237.5,"pz":81,"pc":79,"pa":62.5},{"m":1242.5,"pz":82,"pc":80,"pa":63},{"m":1247.5,"pz":80,"pc":78,"pa":62.5},{"m":1252.5,"pz":81,"pc":79,"pa":63},{"m":1257.5,"pz":80,"pc":78,"pa":62.5},
{"m":1262.5,"pz":80,"pc":78,"pa":62.5},{"m":1267.5,"pz":81,"pc":79,"pa":63},{"m":1272.5,"pz":80,"pc":78,"pa":62.5},{"m":1277.5,"pz":79,"pc":77,"pa":62},{"m":1282.5,"pz":81,"pc":79,"pa":63},{"m":1287.5,"pz":80,"pc":78,"pa":62.5},{"m":1292.5,"pz":79.5,"pc":77.5,"pa":62},{"m":1297.5,"pz":79,"pc":77,"pa":62},{"m":1302.5,"pz":80,"pc":78,"pa":62.5},{"m":1307.5,"pz":79,"pc":77,"pa":62},{"m":1312.5,"pz":80,"pc":78,"pa":62.5},{"m":1317.5,"pz":81,"pc":79,"pa":63},
{"m":1322.5,"pz":84,"pc":82,"pa":65},{"m":1327.5,"pz":83,"pc":81,"pa":64},{"m":1332.5,"pz":84,"pc":82,"pa":64.5},{"m":1337.5,"pz":82,"pc":80,"pa":63},{"m":1342.5,"pz":83,"pc":81,"pa":63},{"m":1347.5,"pz":81,"pc":79,"pa":62.5},{"m":1352.5,"pz":83,"pc":81,"pa":63.5},{"m":1357.5,"pz":80,"pc":78,"pa":62.5},{"m":1362.5,"pz":80,"pc":78,"pa":62},{"m":1367.5,"pz":81,"pc":79,"pa":62.5},{"m":1372.5,"pz":79,"pc":77,"pa":62},{"m":1377.5,"pz":80,"pc":78,"pa":62},
{"m":1382.5,"pz":81,"pc":79,"pa":62.5},{"m":1387.5,"pz":80,"pc":78,"pa":62},{"m":1392.5,"pz":80,"pc":78,"pa":62},{"m":1397.5,"pz":79,"pc":77,"pa":62},{"m":1402.5,"pz":80,"pc":78,"pa":63},{"m":1407.5,"pz":83,"pc":81,"pa":64},{"m":1412.5,"pz":86,"pc":84,"pa":65},{"m":1417.5,"pz":84,"pc":82,"pa":64},{"m":1422.5,"pz":82,"pc":80,"pa":63},{"m":1427.5,"pz":83,"pc":81,"pa":63},{"m":1432.5,"pz":81,"pc":79,"pa":62.5},{"m":1437.5,"pz":80,"pc":78,"pa":62.5}
],
"bot":[
{"m":0,"z":73.5,"c":72,"a":59.2,"lo":70.5,"hi":86},
{"m":5,"z":77,"c":75.5,"a":60.5,"lo":72,"hi":80},
{"m":10,"z":77.5,"c":75.5,"a":61.2,"lo":72.5,"hi":88},
{"m":15,"z":73.5,"c":71.5,"a":60,"lo":70,"hi":79},
{"m":20,"z":75.5,"c":74,"a":60.2,"lo":71.5,"hi":86},
{"m":25,"z":73.5,"c":71.5,"a":59.3,"lo":70,"hi":80},
{"m":30,"z":75.5,"c":74,"a":60.8,"lo":71.5,"hi":87},
{"m":35,"z":74,"c":72.5,"a":60.2,"lo":70.5,"hi":79},
{"m":40,"z":77,"c":75.5,"a":60.5,"lo":72,"hi":86},
{"m":45,"z":75,"c":73,"a":59.8,"lo":71,"hi":81},
{"m":50,"z":72.5,"c":71,"a":59.3,"lo":69.5,"hi":78},
{"m":55,"z":72,"c":70.8,"a":58.8,"lo":69.3,"hi":77},
{"m":60,"z":72.5,"c":71,"a":58.8,"lo":69.5,"hi":79},
{"m":65,"z":73.5,"c":72,"a":59.3,"lo":70.5,"hi":85},
{"m":70,"z":75,"c":73.5,"a":60,"lo":71.5,"hi":80},
{"m":75,"z":75,"c":73,"a":60.3,"lo":71.5,"hi":87},
{"m":80,"z":77.5,"c":76,"a":60.9,"lo":73.5,"hi":81},
{"m":85,"z":75,"c":73,"a":60.3,"lo":71.5,"hi":86},
{"m":90,"z":74.5,"c":72.5,"a":59.8,"lo":71,"hi":80},
{"m":95,"z":73.5,"c":72,"a":60.2,"lo":70.5,"hi":85},
{"m":100,"z":75,"c":73,"a":60.3,"lo":71.5,"hi":81},
{"m":105,"z":75,"c":73,"a":60,"lo":71.5,"hi":88},
{"m":110,"z":75,"c":73,"a":60.1,"lo":71.5,"hi":80},
{"m":115,"z":75.5,"c":73.5,"a":60.5,"lo":72,"hi":86},
{"m":120,"z":75.5,"c":74,"a":60.3,"lo":72,"hi":81},
{"m":125,"z":77,"c":75.5,"a":61,"lo":73.5,"hi":88},
{"m":130,"z":75,"c":73.2,"a":60.2,"lo":71.5,"hi":80},
{"m":135,"z":75.3,"c":73.5,"a":60,"lo":71.5,"hi":86},
{"m":140,"z":73,"c":71,"a":59.2,"lo":69.5,"hi":78},
{"m":145,"z":71.5,"c":69.5,"a":58.3,"lo":68.5,"hi":76},
{"m":150,"z":73,"c":71.3,"a":59.5,"lo":70,"hi":84},
{"m":155,"z":74.2,"c":72.5,"a":60.7,"lo":71,"hi":80},
{"m":160,"z":74.3,"c":72.6,"a":61.1,"lo":71,"hi":87},
{"m":165,"z":74.5,"c":72.8,"a":60.8,"lo":71.5,"hi":81},
{"m":170,"z":75,"c":73.2,"a":60.6,"lo":71.5,"hi":86},
{"m":175,"z":75.7,"c":74,"a":60.2,"lo":72,"hi":80},
{"m":180,"z":75,"c":73.3,"a":59.8,"lo":71.5,"hi":86},
{"m":185,"z":72.5,"c":71,"a":59.3,"lo":69.5,"hi":78},
{"m":190,"z":76.5,"c":74.8,"a":60.8,"lo":73,"hi":88},
{"m":195,"z":77.8,"c":76.3,"a":60.6,"lo":74.5,"hi":81},
{"m":200,"z":76.5,"c":75,"a":60.4,"lo":73,"hi":87},
{"m":205,"z":75,"c":73.3,"a":60,"lo":71.5,"hi":80},
{"m":210,"z":74.5,"c":72.8,"a":59.8,"lo":71,"hi":85},
{"m":215,"z":74,"c":72.3,"a":59.6,"lo":70.5,"hi":79},
{"m":220,"z":75,"c":73.3,"a":60.4,"lo":71.5,"hi":86},
{"m":225,"z":74.5,"c":72.8,"a":60.5,"lo":71,"hi":80},
{"m":230,"z":76.5,"c":75,"a":61.2,"lo":73,"hi":88},
{"m":235,"z":76.5,"c":75,"a":60.8,"lo":73,"hi":81},
{"m":240,"z":77.3,"c":75.5,"a":60.8,"lo":73.5,"hi":88},
{"m":245,"z":76.5,"c":74.8,"a":61,"lo":73,"hi":82},
{"m":250,"z":77,"c":75.2,"a":60.5,"lo":73.5,"hi":87},
{"m":255,"z":76.2,"c":74.5,"a":60.3,"lo":72.5,"hi":81},
{"m":260,"z":77.5,"c":75.6,"a":60.2,"lo":73.5,"hi":88},
{"m":265,"z":76.3,"c":74.6,"a":60.5,"lo":72.5,"hi":82},
{"m":270,"z":76,"c":74.2,"a":60.3,"lo":72,"hi":86},
{"m":275,"z":75,"c":73.2,"a":60,"lo":71.5,"hi":80},
{"m":280,"z":74,"c":72.5,"a":59.6,"lo":70.5,"hi":85},
{"m":285,"z":75.2,"c":73.5,"a":59.3,"lo":71.5,"hi":80},
{"m":290,"z":74.5,"c":72.8,"a":59.5,"lo":71,"hi":86},
{"m":295,"z":75.5,"c":73.5,"a":59.4,"lo":71.5,"hi":81},
{"m":300,"z":75.5,"c":74,"a":60.2,"lo":72,"hi":86},
{"m":305,"z":75.7,"c":74,"a":60,"lo":72,"hi":80},
{"m":310,"z":75,"c":73.3,"a":59.7,"lo":71.5,"hi":85},
{"m":315,"z":73.5,"c":71.8,"a":59.8,"lo":70.5,"hi":78},
{"m":320,"z":72.7,"c":71,"a":60.1,"lo":70,"hi":76},
{"m":325,"z":72.3,"c":70.5,"a":60.1,"lo":69.5,"hi":75.5},
{"m":330,"z":72.2,"c":70.3,"a":60.3,"lo":69.5,"hi":76},
{"m":335,"z":73,"c":71.2,"a":60.6,"lo":70,"hi":80},
{"m":340,"z":74,"c":72.2,"a":61,"lo":71,"hi":84},
{"m":345,"z":75.3,"c":73.5,"a":61.2,"lo":72,"hi":81},
{"m":350,"z":74,"c":72.2,"a":61.3,"lo":71,"hi":86},
{"m":355,"z":72.8,"c":71,"a":61.3,"lo":70,"hi":79},
{"m":360,"z":72.7,"c":71,"a":61.3,"lo":70,"hi":78},
{"m":365,"z":74.4,"c":72.6,"a":61.4,"lo":71.5,"hi":84},
{"m":370,"z":73.2,"c":71.5,"a":61.2,"lo":70.5,"hi":79},
{"m":375,"z":73.5,"c":71.7,"a":61,"lo":70.5,"hi":85},
{"m":380,"z":73,"c":71.2,"a":61.2,"lo":70,"hi":78},
{"m":385,"z":72.3,"c":70.6,"a":61,"lo":69.8,"hi":83},
{"m":390,"z":72.7,"c":71,"a":60.8,"lo":70,"hi":78},
{"m":395,"z":73,"c":71.3,"a":60.7,"lo":70.3,"hi":84},
{"m":400,"z":72.4,"c":70.7,"a":60.5,"lo":69.8,"hi":79},
{"m":405,"z":72.6,"c":70.9,"a":60,"lo":70,"hi":85},
{"m":410,"z":72.8,"c":71.1,"a":59.5,"lo":70.2,"hi":78},
{"m":415,"z":72.8,"c":71.1,"a":59.6,"lo":70.2,"hi":83},
{"m":420,"z":72.8,"c":71.1,"a":59.4,"lo":70.2,"hi":79},
{"m":425,"z":74.2,"c":72.5,"a":59,"lo":71,"hi":84},
{"m":430,"z":73.3,"c":71.6,"a":58.8,"lo":70.5,"hi":80},
{"m":435,"z":74.3,"c":72.5,"a":59.2,"lo":71,"hi":86},
{"m":440,"z":73.8,"c":72,"a":59.3,"lo":70.8,"hi":79},
{"m":445,"z":73,"c":71.3,"a":59.4,"lo":70.3,"hi":85},
{"m":450,"z":73.3,"c":71.6,"a":59.5,"lo":70.5,"hi":80},
{"m":455,"z":74.5,"c":72.7,"a":59.4,"lo":71.3,"hi":86},
{"m":460,"z":73.5,"c":71.8,"a":59.7,"lo":70.6,"hi":80},
{"m":465,"z":75,"c":73,"a":59.9,"lo":71.5,"hi":85},
{"m":470,"z":74,"c":72,"a":60.3,"lo":70.8,"hi":81},
{"m":475,"z":76,"c":74,"a":60.8,"lo":72.5,"hi":87},
{"m":480,"z":74.5,"c":72.5,"a":59.5,"lo":71,"hi":81},
{"m":485,"z":72.8,"c":71,"a":59,"lo":70,"hi":86},
{"m":490,"z":72.6,"c":70.8,"a":58.9,"lo":69.8,"hi":78},
{"m":495,"z":73.2,"c":71.3,"a":59,"lo":70.2,"hi":83},
{"m":500,"z":73,"c":71.2,"a":59.3,"lo":70,"hi":79},
{"m":505,"z":73.3,"c":71.5,"a":59.8,"lo":70.4,"hi":84},
{"m":510,"z":73.8,"c":72,"a":60.3,"lo":70.8,"hi":80},
{"m":515,"z":74.4,"c":72.5,"a":60.7,"lo":71.2,"hi":85},
{"m":520,"z":74,"c":72.2,"a":60.8,"lo":71,"hi":79},
{"m":525,"z":73.6,"c":71.8,"a":60.9,"lo":70.7,"hi":84},
{"m":530,"z":73.8,"c":72,"a":60.9,"lo":70.8,"hi":80},
{"m":535,"z":73.2,"c":71.4,"a":61,"lo":70.3,"hi":83},
{"m":540,"z":73.3,"c":71.6,"a":61.1,"lo":70.3,"hi":79},
{"m":545,"z":73.2,"c":71.5,"a":61.2,"lo":70.2,"hi":84},
{"m":550,"z":73.4,"c":71.7,"a":61.3,"lo":70.4,"hi":79},
{"m":555,"z":73.2,"c":71.5,"a":61.3,"lo":70.2,"hi":83},
{"m":560,"z":73.3,"c":71.6,"a":61.4,"lo":70.3,"hi":80},
{"m":565,"z":73.6,"c":72,"a":61.4,"lo":70.6,"hi":85},
{"m":568.5,"z":73.8,"c":72.2,"a":61.5,"lo":70.8,"hi":81},
{"m":569.5,"z":75,"c":73.6,"a":66.7,"lo":71.5,"hi":84},
{"m":572,"z":76.2,"c":74.8,"a":67,"lo":72.5,"hi":86},
{"m":574.5,"z":77.5,"c":76.3,"a":70.5,"lo":74,"hi":85},
{"m":576.7,"z":80.5,"c":80,"a":76,"lo":76,"hi":91},
{"m":579,"z":76,"c":74.5,"a":68,"lo":72,"hi":84},
{"m":580.7,"z":72,"c":70.5,"a":61,"lo":70,"hi":82},
{"m":585,"z":72,"c":70.5,"a":60.8,"lo":69.8,"hi":86},
{"m":590,"z":72.3,"c":70.8,"a":61,"lo":70,"hi":80},
{"m":595,"z":74,"c":72.3,"a":61.1,"lo":71,"hi":85},
{"m":600,"z":73.3,"c":71.5,"a":61.2,"lo":70.5,"hi":79},
{"m":605,"z":73.5,"c":71.7,"a":61.4,"lo":70.7,"hi":84},
{"m":610,"z":72.8,"c":71,"a":61.6,"lo":70,"hi":80},
{"m":615,"z":74,"c":72,"a":61.8,"lo":71,"hi":85},
{"m":620,"z":73.2,"c":71.3,"a":61.9,"lo":70.3,"hi":79},
{"m":625,"z":73.8,"c":71.8,"a":61.8,"lo":70.8,"hi":84},
{"m":630,"z":73.3,"c":71.4,"a":62.1,"lo":70.4,"hi":80},
{"m":635,"z":73.5,"c":71.5,"a":62.3,"lo":70.5,"hi":83},
{"m":640,"z":72.8,"c":71,"a":62.4,"lo":70,"hi":79},
{"m":645,"z":73.2,"c":71.3,"a":62.4,"lo":70.3,"hi":84},
{"m":650,"z":73,"c":71.1,"a":62.5,"lo":70.1,"hi":79},
{"m":655,"z":72.8,"c":71,"a":62.3,"lo":70,"hi":82},
{"m":660,"z":72.7,"c":71,"a":62.1,"lo":70,"hi":78},
{"m":665,"z":72.5,"c":70.8,"a":62.2,"lo":69.8,"hi":82},
{"m":670,"z":72.5,"c":70.7,"a":62.4,"lo":69.7,"hi":77},
{"m":675,"z":72,"c":70.3,"a":62,"lo":69.3,"hi":80},
{"m":680,"z":71.5,"c":70,"a":61.2,"lo":69,"hi":76},
{"m":685,"z":71.6,"c":70.1,"a":60.6,"lo":69.1,"hi":78},
{"m":690,"z":72.3,"c":70.6,"a":60.4,"lo":69.6,"hi":77},
{"m":695,"z":73,"c":71.2,"a":61.8,"lo":70.2,"hi":84},
{"m":700,"z":72.2,"c":70.6,"a":61.9,"lo":69.6,"hi":78},
{"m":705,"z":72.5,"c":70.9,"a":61.5,"lo":69.9,"hi":83},
{"m":710,"z":72.9,"c":71.3,"a":61,"lo":70.3,"hi":79},
{"m":715,"z":73.2,"c":71.5,"a":61.8,"lo":70.5,"hi":84},
{"m":720,"z":73.2,"c":72,"a":61.5,"lo":70.5,"hi":80},
{"m":725,"z":76,"c":75.3,"a":68.5,"lo":73.5,"hi":83},
{"m":730,"z":75.8,"c":75.2,"a":68.3,"lo":73.5,"hi":78},
{"m":735,"z":74.8,"c":74.3,"a":67.7,"lo":72.5,"hi":82},
{"m":740,"z":75.8,"c":75,"a":68.2,"lo":73.3,"hi":79},
{"m":745,"z":75.6,"c":74.9,"a":68.6,"lo":73.2,"hi":83},
{"m":750,"z":75.8,"c":75,"a":68.4,"lo":73.3,"hi":78},
{"m":755,"z":75.4,"c":74.8,"a":68,"lo":73,"hi":82},
{"m":760,"z":75.5,"c":74.8,"a":68.6,"lo":73,"hi":79},
{"m":765,"z":75.1,"c":74.3,"a":68.2,"lo":72.6,"hi":84},
{"m":770,"z":75.7,"c":75,"a":67.9,"lo":73.3,"hi":79},
{"m":775,"z":75.9,"c":75.2,"a":68.5,"lo":73.5,"hi":82},
{"m":780,"z":75.8,"c":75,"a":68,"lo":73.5,"hi":83},
{"m":785,"z":76.2,"c":75.4,"a":68.5,"lo":73.8,"hi":79},
{"m":790,"z":76.6,"c":75.8,"a":68.7,"lo":74.2,"hi":84},
{"m":795,"z":76,"c":75.2,"a":68.4,"lo":73.6,"hi":79},
{"m":800,"z":76.4,"c":75.6,"a":69,"lo":74,"hi":85},
{"m":805,"z":77,"c":76.2,"a":69.2,"lo":74.5,"hi":80},
{"m":810,"z":77.3,"c":76.4,"a":69.1,"lo":74.8,"hi":83},
{"m":815,"z":76.5,"c":75.6,"a":68.8,"lo":74,"hi":79},
{"m":820,"z":75.7,"c":74.8,"a":67.6,"lo":73.2,"hi":82},
{"m":825,"z":76,"c":75.1,"a":68.3,"lo":73.5,"hi":78},
{"m":830,"z":76.3,"c":75.4,"a":68.8,"lo":73.8,"hi":83},
{"m":835,"z":75.9,"c":75,"a":68.6,"lo":73.4,"hi":79},
{"m":840,"z":76.1,"c":75.2,"a":68.6,"lo":73.6,"hi":82},
{"m":845,"z":76,"c":75,"a":68.5,"lo":73.4,"hi":78},
{"m":850,"z":75.6,"c":74.7,"a":68.3,"lo":73,"hi":83},
{"m":855,"z":76.1,"c":75.1,"a":68.5,"lo":73.5,"hi":79},
{"m":860,"z":76.1,"c":75.2,"a":68.7,"lo":73.6,"hi":82},
{"m":865,"z":76.8,"c":75.9,"a":68.8,"lo":74.2,"hi":84},
{"m":870,"z":75.9,"c":75,"a":68.3,"lo":73.3,"hi":79},
{"m":875,"z":75.9,"c":74.9,"a":68.6,"lo":73.2,"hi":82},
{"m":880,"z":76,"c":75,"a":68.9,"lo":73.4,"hi":78},
{"m":885,"z":75.7,"c":74.8,"a":68.2,"lo":73.1,"hi":83},
{"m":890,"z":75.3,"c":74.4,"a":67.6,"lo":72.7,"hi":79},
{"m":895,"z":75.6,"c":74.7,"a":67.7,"lo":73,"hi":82},
{"m":900,"z":75.8,"c":74.9,"a":67.8,"lo":73.2,"hi":79},
{"m":905,"z":75.8,"c":74.9,"a":68,"lo":73.2,"hi":83},
{"m":910,"z":76,"c":75.1,"a":67.9,"lo":73.4,"hi":78},
{"m":915,"z":76.1,"c":75,"a":67.8,"lo":73.3,"hi":82},
{"m":920,"z":74.7,"c":73.5,"a":64,"lo":71.5,"hi":80},
{"m":925,"z":73,"c":71.5,"a":60.3,"lo":69.5,"hi":77},
{"m":930,"z":71.9,"c":70.2,"a":60.4,"lo":68.8,"hi":75},
{"m":935,"z":71.2,"c":69.6,"a":59.8,"lo":68.3,"hi":76},
{"m":940,"z":71,"c":69.6,"a":59.6,"lo":68.3,"hi":78},
{"m":945,"z":71.3,"c":69.9,"a":59.3,"lo":68.6,"hi":83},
{"m":950,"z":71.6,"c":70.2,"a":59,"lo":68.8,"hi":80},
{"m":955,"z":71.8,"c":70.4,"a":59.1,"lo":69,"hi":84},
{"m":960,"z":71.5,"c":70.2,"a":59.1,"lo":68.8,"hi":79},
{"m":965,"z":71.7,"c":70.3,"a":58.8,"lo":69,"hi":85},
{"m":970,"z":72.2,"c":70.7,"a":59,"lo":69.3,"hi":80},
{"m":975,"z":72.8,"c":71.2,"a":59.3,"lo":69.8,"hi":86},
{"m":980,"z":72.9,"c":71.3,"a":59.4,"lo":69.9,"hi":79},
{"m":985,"z":73,"c":71.4,"a":59.5,"lo":70,"hi":87},
{"m":990,"z":73.5,"c":71.9,"a":59.8,"lo":70.4,"hi":80},
{"m":995,"z":73.8,"c":72.2,"a":60,"lo":70.7,"hi":85},
{"m":1000,"z":72.9,"c":71.3,"a":59.7,"lo":69.9,"hi":81},
{"m":1005,"z":73.2,"c":71.6,"a":59.6,"lo":70.2,"hi":87},
{"m":1010,"z":74.7,"c":73,"a":59.5,"lo":71.5,"hi":80},
{"m":1015,"z":73.5,"c":71.9,"a":59.5,"lo":70.4,"hi":84},
{"m":1020,"z":73,"c":71.4,"a":59.5,"lo":70,"hi":79},
{"m":1025,"z":72.8,"c":71.2,"a":59.8,"lo":69.8,"hi":84},
{"m":1030,"z":73,"c":71.3,"a":60,"lo":70,"hi":80},
{"m":1035,"z":72.9,"c":71.2,"a":60.2,"lo":69.8,"hi":86},
{"m":1040,"z":74.7,"c":73,"a":60.3,"lo":71.5,"hi":81},
{"m":1045,"z":75,"c":73.3,"a":60.5,"lo":71.8,"hi":88},
{"m":1050,"z":74.5,"c":72.8,"a":60.3,"lo":71.3,"hi":80},
{"m":1055,"z":75,"c":73.3,"a":60.1,"lo":71.8,"hi":87},
{"m":1060,"z":74.2,"c":72.5,"a":60.2,"lo":71,"hi":81},
{"m":1065,"z":73.6,"c":71.9,"a":60.4,"lo":70.5,"hi":86},
{"m":1070,"z":74,"c":72.3,"a":60.5,"lo":70.8,"hi":80},
{"m":1075,"z":74.8,"c":73.1,"a":60.6,"lo":71.6,"hi":88},
{"m":1080,"z":75.5,"c":74,"a":60.4,"lo":72.3,"hi":81},
{"m":1085,"z":74.6,"c":73,"a":60.2,"lo":71.5,"hi":88},
{"m":1090,"z":73.5,"c":71.8,"a":60.3,"lo":70.4,"hi":80},
{"m":1095,"z":74,"c":72.3,"a":60.7,"lo":70.9,"hi":86},
{"m":1100,"z":74.6,"c":73,"a":61,"lo":71.5,"hi":81},
{"m":1105,"z":75.6,"c":74,"a":61.2,"lo":72.4,"hi":87},
{"m":1110,"z":74,"c":72.3,"a":60.6,"lo":70.9,"hi":79},
{"m":1115,"z":73.3,"c":71.6,"a":60.3,"lo":70.2,"hi":85},
{"m":1120,"z":73.5,"c":71.8,"a":60.1,"lo":70.4,"hi":80},
{"m":1125,"z":73,"c":71.3,"a":59.8,"lo":70,"hi":84},
{"m":1130,"z":72.8,"c":71.1,"a":59.6,"lo":69.8,"hi":79},
{"m":1135,"z":72.5,"c":70.9,"a":59.6,"lo":69.6,"hi":83},
{"m":1140,"z":72.5,"c":70.9,"a":59.4,"lo":69.6,"hi":78},
{"m":1145,"z":73,"c":71.4,"a":59.5,"lo":70,"hi":83},
{"m":1150,"z":73.8,"c":72.2,"a":59.6,"lo":70.8,"hi":79},
{"m":1155,"z":73.2,"c":71.6,"a":59.3,"lo":70.2,"hi":84},
{"m":1160,"z":73.4,"c":71.8,"a":59.4,"lo":70.4,"hi":78},
{"m":1165,"z":72.4,"c":70.7,"a":59.1,"lo":69.5,"hi":82},
{"m":1170,"z":71.7,"c":69.8,"a":59.3,"lo":68.8,"hi":77},
{"m":1175,"z":72.5,"c":70.8,"a":59.6,"lo":69.6,"hi":84},
{"m":1180,"z":74,"c":72.3,"a":59.8,"lo":70.9,"hi":80},
{"m":1185,"z":74.8,"c":73.2,"a":60,"lo":71.7,"hi":87},
{"m":1190,"z":76.3,"c":74.8,"a":60.5,"lo":73,"hi":82},
{"m":1195,"z":75.5,"c":73.5,"a":60.3,"lo":72,"hi":89},
{"m":1200,"z":74.8,"c":73,"a":60,"lo":71.5,"hi":81},
{"m":1205,"z":75.5,"c":73.8,"a":60.3,"lo":72.2,"hi":88},
{"m":1210,"z":76.3,"c":74.8,"a":60.5,"lo":73,"hi":82},
{"m":1215,"z":74,"c":72.2,"a":59.6,"lo":70.8,"hi":86},
{"m":1220,"z":73,"c":71.3,"a":59.4,"lo":70,"hi":79},
{"m":1225,"z":73.5,"c":71.7,"a":59.5,"lo":70.4,"hi":85},
{"m":1230,"z":74.4,"c":72.6,"a":59.7,"lo":71.2,"hi":80},
{"m":1235,"z":73.8,"c":72,"a":59.5,"lo":70.7,"hi":84},
{"m":1240,"z":73,"c":71.3,"a":59.6,"lo":70,"hi":79},
{"m":1245,"z":73.2,"c":71.5,"a":59.4,"lo":70.2,"hi":85},
{"m":1250,"z":72.8,"c":71.1,"a":59.4,"lo":69.8,"hi":79},
{"m":1255,"z":72.5,"c":70.9,"a":59.5,"lo":69.6,"hi":83},
{"m":1260,"z":72.6,"c":70.9,"a":59.4,"lo":69.8,"hi":78},
{"m":1265,"z":72.7,"c":71,"a":59.2,"lo":69.9,"hi":84},
{"m":1270,"z":72.8,"c":71.2,"a":59.3,"lo":70.1,"hi":78},
{"m":1275,"z":72.5,"c":70.9,"a":59.5,"lo":69.8,"hi":83},
{"m":1280,"z":72.7,"c":71,"a":59.4,"lo":69.9,"hi":79},
{"m":1285,"z":72.6,"c":70.9,"a":59.3,"lo":69.8,"hi":82},
{"m":1290,"z":72.7,"c":71,"a":59.4,"lo":69.9,"hi":78},
{"m":1295,"z":72.8,"c":71.1,"a":59.5,"lo":70,"hi":84},
{"m":1300,"z":72.6,"c":70.9,"a":59.3,"lo":69.8,"hi":78},
{"m":1305,"z":72.4,"c":70.7,"a":59.2,"lo":69.6,"hi":82},
{"m":1310,"z":72,"c":70.3,"a":59.3,"lo":69.2,"hi":77},
{"m":1315,"z":72.2,"c":70.5,"a":59.6,"lo":69.4,"hi":80},
{"m":1320,"z":75.5,"c":74.3,"a":60.5,"lo":72.5,"hi":86},
{"m":1325,"z":75,"c":73.8,"a":60.8,"lo":72,"hi":82},
{"m":1330,"z":74.2,"c":73,"a":60.1,"lo":71.2,"hi":88},
{"m":1335,"z":72.9,"c":71.5,"a":59.8,"lo":70,"hi":79},
{"m":1340,"z":74,"c":72.6,"a":59.5,"lo":71,"hi":85},
{"m":1345,"z":72.5,"c":71,"a":59.2,"lo":69.8,"hi":80},
{"m":1350,"z":73.8,"c":72.3,"a":59.4,"lo":71,"hi":84},
{"m":1355,"z":72.8,"c":71.2,"a":59.6,"lo":70,"hi":79},
{"m":1360,"z":73.6,"c":72.1,"a":59.2,"lo":70.8,"hi":85},
{"m":1365,"z":72.3,"c":70.8,"a":59.4,"lo":69.6,"hi":78},
{"m":1370,"z":72.6,"c":71,"a":59.1,"lo":69.8,"hi":83},
{"m":1375,"z":72.4,"c":70.8,"a":59.3,"lo":69.6,"hi":79},
{"m":1380,"z":72.3,"c":70.6,"a":59.4,"lo":69.5,"hi":78},
{"m":1385,"z":72.5,"c":70.9,"a":59.3,"lo":69.8,"hi":82},
{"m":1390,"z":72.2,"c":70.5,"a":59,"lo":69.4,"hi":77},
{"m":1395,"z":72.7,"c":71,"a":59.1,"lo":69.9,"hi":81},
{"m":1400,"z":72,"c":70.3,"a":59.6,"lo":69.2,"hi":78},
{"m":1405,"z":74.5,"c":73,"a":60.2,"lo":71.5,"hi":86},
{"m":1410,"z":76.7,"c":75.5,"a":60.5,"lo":73.5,"hi":88},
{"m":1415,"z":74,"c":72.5,"a":60,"lo":71,"hi":85},
{"m":1420,"z":73,"c":71.4,"a":59.6,"lo":70.2,"hi":80},
{"m":1425,"z":72.8,"c":71.2,"a":59.5,"lo":70,"hi":83},
{"m":1430,"z":72.6,"c":71,"a":59.6,"lo":69.8,"hi":79},
{"m":1435,"z":72.5,"c":70.9,"a":59.8,"lo":69.7,"hi":81},
{"m":1439,"z":72.5,"c":71,"a":59.7,"lo":69.8,"hi":79}
]
},
"vconcat":[
{
"title":{"text":"average and peak noise level (1 min sampling)"},
"width":2284,"height":504,
"data":{"name":"top"},
"resolve":{"axis":{"x":"independent","y":"independent"}},
"layer":[
{"transform":[{"fold":["pz","pc","pa"],"as":["k","v"]}],
 "mark":{"type":"point","filled":true,"size":70,"strokeWidth":0.8,"opacity":0.8},
 "encoding":{
  "x":{"field":"m","type":"quantitative","scale":{"domain":[0,1439],"nice":false,"zero":false},
   "axis":{"orient":"bottom","values":[30,60,90,150,180,210,270,300,330,390,420,450,510,540,570,630,660,690,750,780,810,870,900,930,990,1020,1050,1110,1140,1170,1230,1260,1290,1350,1380,1410],"labels":false,"grid":true,"gridColor":"#cdcdcd","gridWidth":0.9,"gridDash":[2,2],"tickSize":3,"tickWidth":0.8,"title":null}},
  "y":{"field":"v","type":"quantitative","scale":{"domain":[24,108],"nice":false,"zero":false},
   "axis":{"orient":"left","values":[27,30,33,39,42,45,51,54,57,63,66,69,75,78,81,87,90,93,99,102,105],"labels":false,"grid":true,"gridColor":"#b8b8b8","gridWidth":0.9,"gridDash":[3,2],"tickSize":4,"tickWidth":0.8,"title":null}},
  "fill":{"field":"k","type":"nominal","scale":{"domain":["pz","pc","pa","z","c","a"],"range":["#1e90ff","#ff00ff","#2e8b57","#4682b4","#da70d6","#9acd32"]},
   "legend":{"orient":"bottom-right","title":null,"columns":2,"symbolSize":49,"symbolStrokeWidth":3,"symbolOpacity":1,
    "labelExpr":"datum.label=='pz' ? 'peak dB(Z)' : datum.label=='pc' ? 'peak dB(C)' : datum.label=='pa' ? 'peak dB(A)' : 'avg dB(' + upper(datum.label) + ')'"}},
  "stroke":{"field":"k","type":"nominal","scale":{"domain":["pz","pc","pa","z","c","a"],"range":["#1e90ff","#ff00ff","#2e8b57","#4682b4","#da70d6","#9acd32"]}},
  "shape":{"field":"k","type":"nominal","scale":{"domain":["pz","pc","pa","z","c","a"],"range":["M-0.286,0A0.286,0.286,0,1,1,0.286,0A0.286,0.286,0,1,1,-0.286,0Z","M-0.286,0A0.286,0.286,0,1,1,0.286,0A0.286,0.286,0,1,1,-0.286,0Z","M-0.286,0A0.286,0.286,0,1,1,0.286,0A0.286,0.286,0,1,1,-0.286,0Z","M-1.43,0H4.86","M-1.43,0H4.86","M-1.43,0H4.86"]}}
 }},
{"data":{"name":"pk"},
 "transform":[{"fold":["pz","pc","pa"],"as":["k","v"]}],
 "mark":{"type":"point","filled":true,"size":70,"strokeWidth":0.8,"opacity":0.8},
 "encoding":{
  "x":{"field":"m","type":"quantitative","axis":null},
  "y":{"field":"v","type":"quantitative","axis":null},
  "fill":{"field":"k","type":"nominal"},
  "stroke":{"field":"k","type":"nominal"},
  "shape":{"field":"k","type":"nominal"}
 }},
{"mark":{"type":"line","strokeWidth":1.4},
 "encoding":{
  "x":{"field":"m","type":"quantitative","scale":{"domain":[0,1439],"nice":false,"zero":false},
   "axis":{"orient":"bottom","values":[0,120,240,360,480,600,720,840,960,1080,1200,1320],"labelExpr":"(datum.value < 600 ? '0' : '') + floor(datum.value/60) + ':00'","grid":true,"gridColor":"#adadad","gridWidth":1.5,"tickSize":5,"tickWidth":1,"labelPadding":5,"title":"time","titlePadding":7}},
  "y":{"field":"z","type":"quantitative","scale":{"domain":[24,108],"nice":false,"zero":false},
   "axis":{"orient":"left","values":[24,36,48,60,72,84,96,108],"grid":true,"gridColor":"#adadad","gridWidth":1.5,"tickSize":9,"tickWidth":1,"labelPadding":3,"title":"dB SPL","titlePadding":9}},
  "stroke":{"datum":"z","type":"nominal"}
 }},
{"mark":{"type":"line","strokeWidth":1.4},
 "encoding":{
  "x":{"field":"m","type":"quantitative","axis":null},
  "y":{"field":"c","type":"quantitative",
   "axis":{"orient":"right","values":[24,36,48,60,72,84,96,108],"grid":false,"tickSize":5,"tickWidth":1,"labelPadding":4,"title":"dB SPL","titleAngle":270,"titleBaseline":"top","titlePadding":8}},
  "stroke":{"datum":"c","type":"nominal"}
 }},
{"mark":{"type":"line","strokeWidth":1.4},
 "encoding":{
  "x":{"field":"m","type":"quantitative","axis":null},
  "y":{"field":"a","type":"quantitative",
   "axis":{"orient":"right","values":[27,30,33,39,42,45,51,54,57,63,66,69,75,78,81,87,90,93,99,102,105],"labels":false,"grid":false,"tickSize":3,"tickWidth":0.8,"title":null}},
  "stroke":{"datum":"a","type":"nominal"}
 }}
]
},
{
"title":{"text":"average noise level (5 min with 15s min/max dB envelope)"},
"width":2284,"height":504,
"data":{"name":"bot"},
"resolve":{"axis":{"x":"independent","y":"independent"}},
"layer":[
{"mark":{"type":"area","color":"#f08080","opacity":0.27},
 "encoding":{
  "x":{"field":"m","type":"quantitative","scale":{"domain":[0,1439],"nice":false,"zero":false},
   "axis":{"orient":"bottom","values":[30,60,90,150,180,210,270,300,330,390,420,450,510,540,570,630,660,690,750,780,810,870,900,930,990,1020,1050,1110,1140,1170,1230,1260,1290,1350,1380,1410],"labels":false,"grid":true,"gridColor":"#cdcdcd","gridWidth":0.9,"gridDash":[2,2],"tickSize":3,"tickWidth":0.8,"title":null}},
  "y":{"field":"lo","type":"quantitative","scale":{"domain":[24,108],"nice":false,"zero":false},
   "axis":{"orient":"left","values":[27,30,33,39,42,45,51,54,57,63,66,69,75,78,81,87,90,93,99,102,105],"labels":false,"grid":true,"gridColor":"#b8b8b8","gridWidth":0.9,"gridDash":[3,2],"tickSize":4,"tickWidth":0.8,"title":null}},
  "y2":{"field":"hi"}
 }},
{"mark":{"type":"line","strokeWidth":1.8},
 "encoding":{
  "x":{"field":"m","type":"quantitative","scale":{"domain":[0,1439],"nice":false,"zero":false},
   "axis":{"orient":"bottom","values":[0,120,240,360,480,600,720,840,960,1080,1200,1320],"labelExpr":"(datum.value < 600 ? '0' : '') + floor(datum.value/60) + ':00:00'","grid":true,"gridColor":"#adadad","gridWidth":1.5,"tickSize":5,"tickWidth":1,"labelPadding":5,"title":"time","titlePadding":7}},
  "y":{"field":"z","type":"quantitative","scale":{"domain":[24,108],"nice":false,"zero":false},
   "axis":{"orient":"left","values":[24,36,48,60,72,84,96,108],"grid":true,"gridColor":"#adadad","gridWidth":1.5,"tickSize":9,"tickWidth":1,"labelPadding":3,"title":"dB SPL","titlePadding":9}},
  "color":{"datum":"z","type":"nominal","scale":{"domain":["z","c","a"],"range":["#dc143c","#ff8c00","#ffd700"]},
   "legend":{"orient":"bottom-right","title":null,"symbolType":"M-1.43,0H4.86","symbolSize":49,"symbolStrokeWidth":3,"labelExpr":"'dB(' + upper(datum.label) + ')'"}}
 }},
{"mark":{"type":"line","strokeWidth":1.8},
 "encoding":{
  "x":{"field":"m","type":"quantitative","axis":null},
  "y":{"field":"c","type":"quantitative",
   "axis":{"orient":"right","values":[24,36,48,60,72,84,96,108],"grid":false,"tickSize":5,"tickWidth":1,"labelPadding":4,"title":"dB SPL","titleAngle":270,"titleBaseline":"top","titlePadding":8}},
  "color":{"datum":"c","type":"nominal"}
 }},
{"mark":{"type":"line","strokeWidth":1.8},
 "encoding":{
  "x":{"field":"m","type":"quantitative","axis":null},
  "y":{"field":"a","type":"quantitative",
   "axis":{"orient":"right","values":[27,30,33,39,42,45,51,54,57,63,66,69,75,78,81,87,90,93,99,102,105],"labels":false,"grid":false,"tickSize":3,"tickWidth":0.8,"title":null}},
  "color":{"datum":"a","type":"nominal"}
 }}
]
}
]
}
